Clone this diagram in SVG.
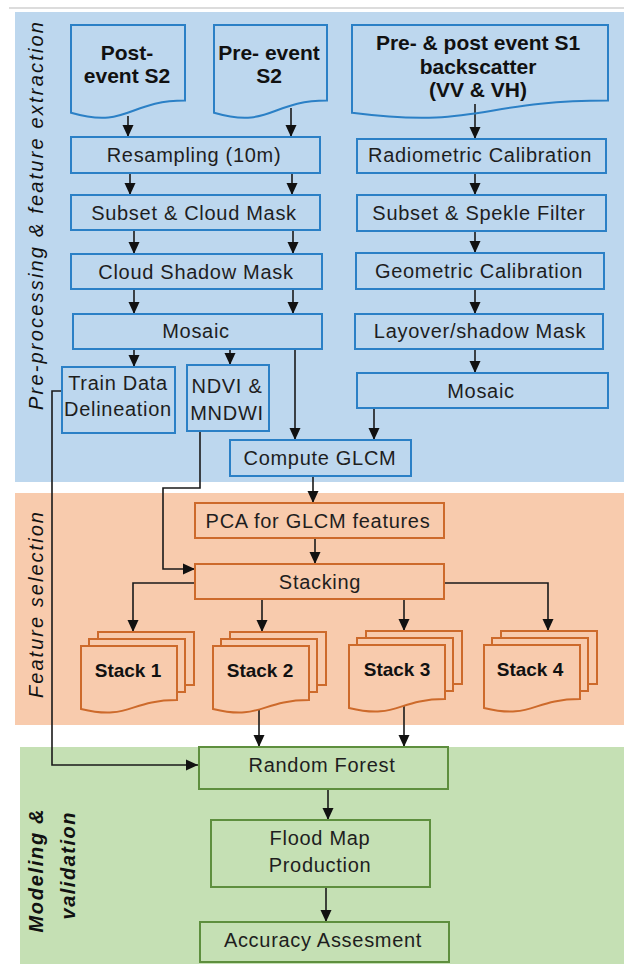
<svg xmlns="http://www.w3.org/2000/svg" width="624" height="964" viewBox="0 0 624 964">
<defs>
<style>
.lbl{font-family:"Liberation Sans",Arial,sans-serif;font-size:20px;fill:#1e1e1e;letter-spacing:0.7px;text-anchor:middle}
.doc{font-family:"Liberation Sans",Arial,sans-serif;font-size:21px;font-weight:bold;fill:#111;text-anchor:middle}
.stk{font-family:"Liberation Sans",Arial,sans-serif;font-size:19px;font-weight:bold;fill:#111;text-anchor:middle}
.side{font-family:"Liberation Sans",Arial,sans-serif;font-size:20px;font-style:italic;fill:#111;text-anchor:middle}
.b{fill:none;stroke:#2b80c6;stroke-width:2}
.o{fill:#f8cbad;stroke:#cd6a2b;stroke-width:2}
.g{fill:none;stroke:#5e8f3e;stroke-width:2}
.c{fill:none;stroke:#1a1a1a;stroke-width:1.6}
</style>
<marker id="ah" markerUnits="userSpaceOnUse" viewBox="0 0 12 12" refX="12" refY="6" markerWidth="12" markerHeight="12" orient="auto">
<path d="M0,0.5 L12,6 L0,11.5 Z" fill="#111"/>
</marker>
<g id="stackShape">
<rect x="17" y="-14" width="96" height="53" class="o"/>
<rect x="8" y="-7" width="96" height="53" class="o"/>
<path d="M0,0 H96 V54.1 C48,54.1 48,74.7 0,63 Z" class="o"/>
</g>
</defs>
<rect width="624" height="964" fill="#ffffff"/>
<line x1="9" y1="8" x2="624" y2="8" stroke="#dcdcdc" stroke-width="2"/>
<g id="panels">
<rect x="15" y="12" width="609" height="470" fill="#bdd7ee"/>
<rect x="15" y="493" width="609" height="232" fill="#f8cbad"/>
<rect x="20" y="747" width="604" height="217" fill="#c5e0b4"/>
</g>
<g id="side-labels">
<text class="side" transform="translate(43,216) rotate(-90)" textLength="388" lengthAdjust="spacing">Pre-processing &amp; feature extraction</text>
<text class="side" transform="translate(43,605) rotate(-90)" textLength="186" lengthAdjust="spacing">Feature selection</text>
<text class="side" font-weight="bold" transform="translate(43,871) rotate(-90)" textLength="123" lengthAdjust="spacing">Modeling &amp;</text>
<text class="side" font-weight="bold" transform="translate(75,866) rotate(-90)" textLength="107" lengthAdjust="spacing">validation</text>
</g>
<g id="connectors">
<path class="c" d="M128,116 V137" marker-end="url(#ah)"/>
<path class="c" d="M291,108 V137" marker-end="url(#ah)"/>
<path class="c" d="M130,173 V195" marker-end="url(#ah)"/>
<path class="c" d="M292,173 V195" marker-end="url(#ah)"/>
<path class="c" d="M134,230 V254" marker-end="url(#ah)"/>
<path class="c" d="M293,230 V254" marker-end="url(#ah)"/>
<path class="c" d="M134,289 V314" marker-end="url(#ah)"/>
<path class="c" d="M293,289 V314" marker-end="url(#ah)"/>
<path class="c" d="M134,349 V367" marker-end="url(#ah)"/>
<path class="c" d="M230,349 V365" marker-end="url(#ah)"/>
<path class="c" d="M295,349 V440" marker-end="url(#ah)"/>
<path class="c" d="M475,104 V139" marker-end="url(#ah)"/>
<path class="c" d="M475,173 V195" marker-end="url(#ah)"/>
<path class="c" d="M475,231 V253" marker-end="url(#ah)"/>
<path class="c" d="M475,289 V314" marker-end="url(#ah)"/>
<path class="c" d="M475,349 V373" marker-end="url(#ah)"/>
<path class="c" d="M374,408 V440" marker-end="url(#ah)"/>
<path class="c" d="M313,476 V503" marker-end="url(#ah)"/>
<path class="c" d="M315,538 V564" marker-end="url(#ah)"/>
<path class="c" d="M200,431 V488 H163 V569 H195" marker-end="url(#ah)"/>
<path class="c" d="M62,391 H52 V765 H198" marker-end="url(#ah)"/>
<path class="c" d="M195,583 H133 V632" marker-end="url(#ah)"/>
<path class="c" d="M262,599 V632" marker-end="url(#ah)"/>
<path class="c" d="M404,599 V631" marker-end="url(#ah)"/>
<path class="c" d="M444,583 H548 V631" marker-end="url(#ah)"/>
<path class="c" d="M259,707 V747" marker-end="url(#ah)"/>
<path class="c" d="M404,705 V747" marker-end="url(#ah)"/>
<path class="c" d="M328,789 V820" marker-end="url(#ah)"/>
<path class="c" d="M326,887 V922" marker-end="url(#ah)"/>
</g>
<g id="post-event-s2">
<path class="b" d="M71,25 H185 V100.4 C128,100.4 128,129.1 71,112.8 Z"/>
<text class="doc" x="127" y="60">Post-</text>
<text class="doc" x="127" y="83">event S2</text>
</g>
<g id="pre-event-s2">
<path class="b" d="M214,25 H327 V100.4 C270.5,100.4 270.5,129.1 214,112.8 Z"/>
<text class="doc" x="269" y="60">Pre- event</text>
<text class="doc" x="269" y="83">S2</text>
</g>
<g id="s1-backscatter">
<path class="b" d="M352,25 H608 V100.4 C480,100.4 480,129.1 352,112.8 Z"/>
<text class="doc" x="478" y="50">Pre- &amp; post event S1</text>
<text class="doc" x="478" y="74">backscatter</text>
<text class="doc" x="478" y="97">(VV &amp; VH)</text>
</g>
<g id="resampling"><rect class="b" x="71" y="137" width="249" height="36"/><text class="lbl" x="194" y="162">Resampling (10m)</text></g>
<g id="subset-cloud"><rect class="b" x="71" y="195" width="249" height="35"/><text class="lbl" x="194" y="220">Subset &amp; Cloud Mask</text></g>
<g id="cloud-shadow"><rect class="b" x="71" y="254" width="251" height="35"/><text class="lbl" x="196" y="279">Cloud Shadow Mask</text></g>
<g id="mosaic-s2"><rect class="b" x="73" y="314" width="249" height="35"/><text class="lbl" x="196" y="338">Mosaic</text></g>
<g id="train-data"><rect class="b" x="62" y="367" width="113" height="66"/><text class="lbl" x="118" y="390">Train Data</text><text class="lbl" x="118" y="416">Delineation</text></g>
<g id="ndvi"><rect class="b" x="187" y="365" width="82" height="66"/><text class="lbl" x="227" y="393">NDVI &amp;</text><text class="lbl" x="227" y="420">MNDWI</text></g>
<g id="compute-glcm"><rect class="b" x="230" y="440" width="181" height="36"/><text class="lbl" x="320" y="465">Compute GLCM</text></g>
<g id="radiometric"><rect class="b" x="357" y="139" width="249" height="34"/><text class="lbl" x="480" y="162">Radiometric Calibration</text></g>
<g id="subset-speckle"><rect class="b" x="357" y="195" width="249" height="36"/><text class="lbl" x="479" y="220">Subset &amp; Spekle Filter</text></g>
<g id="geometric"><rect class="b" x="356" y="253" width="248" height="36"/><text class="lbl" x="479" y="278">Geometric Calibration</text></g>
<g id="layover"><rect class="b" x="355" y="314" width="248" height="35"/><text class="lbl" x="480" y="338">Layover/shadow Mask</text></g>
<g id="mosaic-s1"><rect class="b" x="357" y="373" width="251" height="35"/><text class="lbl" x="481" y="398">Mosaic</text></g>
<g id="pca"><rect class="o" x="195" y="503" width="249" height="35"/><text class="lbl" x="318" y="528">PCA for GLCM features</text></g>
<g id="stacking"><rect class="o" x="195" y="564" width="249" height="35"/><text class="lbl" x="320" y="589">Stacking</text></g>
<g id="stack1"><use href="#stackShape" x="81" y="646"/><text class="stk" x="128" y="677">Stack 1</text></g>
<g id="stack2"><use href="#stackShape" x="213" y="646"/><text class="stk" x="260" y="677">Stack 2</text></g>
<g id="stack3"><use href="#stackShape" x="349" y="645"/><text class="stk" x="397" y="676">Stack 3</text></g>
<g id="stack4"><use href="#stackShape" x="484" y="645"/><text class="stk" x="530" y="676">Stack 4</text></g>
<g id="random-forest"><rect class="g" x="199" y="747" width="249" height="42"/><text class="lbl" x="322" y="772">Random Forest</text></g>
<g id="flood-map"><rect class="g" x="211" y="820" width="219" height="67"/><text class="lbl" x="320" y="845">Flood Map</text><text class="lbl" x="320" y="872">Production</text></g>
<g id="accuracy"><rect class="g" x="200" y="922" width="249" height="40"/><text class="lbl" x="323" y="947">Accuracy Assesment</text></g>
</svg>
